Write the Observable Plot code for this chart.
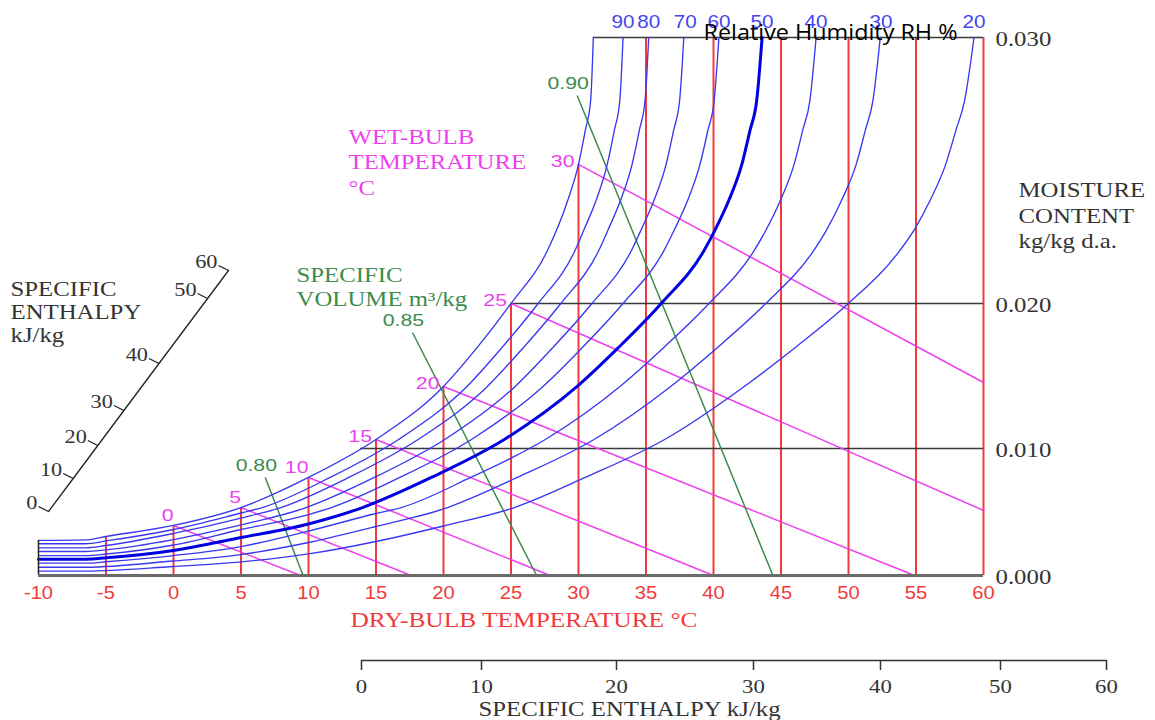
<!DOCTYPE html>
<html><head><meta charset="utf-8">
<script src="https://cdn.jsdelivr.net/npm/d3@7"></script>
<script src="https://cdn.jsdelivr.net/npm/@observablehq/plot@0.6"></script>
<style>
html,body{margin:0;padding:0;background:#fff;}
#chart{position:relative;width:1155px;height:720px;overflow:hidden;background:#fff;}
#chart svg{position:absolute;left:0;top:0;}
</style></head><body><div id="chart"></div>
<script>
// ---------- data ----------
const dryBulbTicks = [-10,-5,0,5,10,15,20,25,30,35,40,45,50,55,60];
const redLineT = [-5,0,5,10,15,20,25,30,35,40,45,50,55,60];
const redLineTopW = [0.00307,0.00394,0.00535,0.00772,0.01062,0.01428,0.0200,0.02523,0.03,0.03,0.03,0.03,0.03,0.03];
const moistureTicks = [0, 0.01, 0.02, 0.03];
const moistureLabels = ["0.000","0.010","0.020","0.030"];
const moistureLineStartT = [13.85, 25, 31.1];

const rhLevels = [100,90,80,70,60,50,40,30,20];
const rh100 = [[-10,0.00276],[-6.5,0.00280],[-5,0.00307],[0,0.00394],[5,0.00535],[10,0.00772],[15,0.01062],[20,0.01428],[22.5,0.01697],[25,0.0200],[27.7,0.02199],[29.2,0.02387],[30,0.02523],[30.5,0.02650],[30.9,0.02763],[31.1,0.03]];
const rh90 = [[-10,0.00250],[-6.5,0.00250],[-5,0.00272],[0,0.00362],[5,0.00492],[6.58,0.00535],[11.6,0.00772],[16.67,0.01062],[21.74,0.01428],[24.34,0.01697],[26.95,0.01993],[29.74,0.02199],[30.41,0.02278],[31.3,0.02387],[32.13,0.02523],[32.65,0.02650],[33.06,0.02763],[33.3,0.03]];
const rh80 = [[-10,0.00218],[-6.5,0.00218],[-5,0.00236],[0,0.00331],[5,0.00452],[7.95,0.00535],[12.98,0.00772],[18.12,0.01062],[23.25,0.01428],[25.93,0.01697],[28.63,0.01993],[31.5,0.02199],[32.2,0.02278],[33.11,0.02387],[33.97,0.02523],[34.5,0.02650],[34.93,0.02763],[35.2,0.03]];
const rh70 = [[-10,0.00189],[-6.5,0.00189],[-5,0.00202],[0,0.00283],[5,0.00398],[9.82,0.00535],[14.88,0.00772],[20.09,0.01062],[25.31,0.01428],[28.11,0.01697],[30.93,0.01993],[33.92,0.02199],[34.65,0.02278],[35.59,0.02387],[36.49,0.02523],[37.04,0.02650],[37.49,0.02763],[37.8,0.03]];
const rh60 = [[-10,0.00157],[-6.5,0.00157],[-5,0.00169],[0,0.00240],[5,0.00362],[10,0.00480],[11.7,0.00535],[16.77,0.00772],[22.07,0.01062],[27.37,0.01428],[30.29,0.01697],[33.23,0.01993],[36.33,0.02199],[37.11,0.02278],[38.08,0.02387],[39.0,0.02523],[39.58,0.02650],[40.05,0.02763],[40.4,0.03]];
const rh50 = [[-10,0.00128],[-6.5,0.00128],[-5,0.00139],[0,0.00197],[5,0.00299],[10,0.00406],[14,0.00535],[19.1,0.00772],[24.5,0.01062],[29.9,0.01428],[32.97,0.01697],[36.06,0.01993],[39.3,0.02199],[40.13,0.02278],[41.13,0.02387],[42.1,0.02523],[42.7,0.02650],[43.2,0.02763],[43.6,0.03]];
const rh40 = [[-10,0.00097],[-6.5,0.00097],[-5,0.00108],[0,0.00157],[5,0.00228],[10,0.00350],[15,0.00488],[16.88,0.00535],[22.01,0.00772],[27.54,0.01062],[33.07,0.01428],[36.32,0.01697],[39.6,0.01993],[43.01,0.02199],[43.91,0.02278],[44.95,0.02387],[45.97,0.02523],[46.6,0.02650],[47.14,0.02763],[47.6,0.03]];
const rh30 = [[-10,0.00065],[-6.5,0.00065],[0,0.00114],[5,0.00165],[10,0.00260],[15,0.00386],[20.3,0.00535],[25.47,0.00772],[31.15,0.01062],[36.83,0.01428],[40.3,0.01697],[43.8,0.01993],[47.42,0.02199],[48.39,0.02278],[49.48,0.02387],[50.57,0.02523],[51.24,0.02650],[51.81,0.02763],[52.35,0.03]];
const rh20 = [[-10,0.00034],[-6.5,0.00034],[0,0.00071],[5,0.00107],[10,0.00170],[15,0.00268],[20,0.00390],[25.25,0.00535],[30.5,0.00772],[36.38,0.01062],[42.28,0.01428],[46.06,0.01697],[49.9,0.01993],[53.8,0.02199],[54.88,0.02278],[56.04,0.02387],[57.2,0.02523],[57.95,0.02650],[58.6,0.02763],[59.3,0.03]];

const rhLabelLevels = [90,80,70,60,50,40,30,20];
const rhLabelTopT = [33.3,35.2,37.9,40.4,43.6,47.6,52.4,59.3];

const wetBulbT = [0,5,10,15,20,25,30];
const wetBulbStartW = [0.00394,0.00535,0.00772,0.01062,0.01428,0.0200,0.02523];
const wetBulbEndT = [9.4,17.6,27.9,40,54.9,60,60];
const wetBulbEndW = [0,0,0,0,0,0.00512,0.01455];

const volumeLabels = ["0.80","0.85","0.90"];
const volumeStartT = [6.8,17.7,29.9];
const volumeStartW = [0.00772,0.0180,0.02782];
const volumeEndT = [9.6,26.9,44.4];

const enthalpyTicks = [0,10,20,30,40,50,60];

// ---------- tables ----------
const rhCurves = [rh100,rh90,rh80,rh70,rh60,rh50,rh40,rh30,rh20];
const rhRows = rhLevels.flatMap((rh,i) => rhCurves[i].map(([T,w]) => ({rh, T, w})));
const redRows = redLineT.map((T,i) => ({T, top: redLineTopW[i]}));
const hLineRows = moistureTicks.slice(1).map((w,i) => ({w, x1: moistureLineStartT[i]}));
const wbRows = wetBulbT.map((t,i) => ({label: String(t), T1: t, W1: wetBulbStartW[i], T2: wetBulbEndT[i], W2: wetBulbEndW[i]}));
const volRows = volumeLabels.map((l,i) => ({label: l, T1: volumeStartT[i], W1: volumeStartW[i], T2: volumeEndT[i], W2: 0}));

// ---------- styles ----------
const serif = "Liberation Serif, Times New Roman, serif";
const sans = "Liberation Sans, Arial, sans-serif";
const RED = "#f23a3a", PINK = "#ee3fee", GREEN = "#3c8c4e", BLUE = "#3838f0", GREY = "#333";
const tag = k => () => "k" + k;
const label = (txt, x, y, o) => Plot.text([txt], {frameAnchor: "top-left", dx: x, dy: y, text: d => d,
  textAnchor: "start", lineAnchor: "middle", fontFamily: serif, fontSize: 20, ...o});

const main = Plot.plot({
  width: 1155, height: 720, margin: 0,
  style: {background: "transparent", overflow: "visible"},
  x: {type: "linear", domain: [-10, 60], range: [38, 983], axis: null},
  y: {type: "linear", domain: moistureTicks, range: [575, 448, 303, 37], axis: null},
  marks: [
    Plot.ruleX(redRows, {x: "T", y1: 0, y2: "top", stroke: RED, strokeWidth: 2}),
    Plot.ruleY(hLineRows, {y: "w", x1: "x1", x2: 60, stroke: "#3a3a3a", strokeWidth: 1.5}),
    Plot.link(wbRows, {x1: "T1", y1: "W1", x2: "T2", y2: "W2", stroke: PINK, strokeWidth: 1.5}),
    Plot.link(volRows, {x1: "T1", y1: "W1", x2: "T2", y2: "W2", stroke: GREEN, strokeWidth: 1.5}),
    Plot.line(rhRows.filter(d => d.rh !== 50), {x: "T", y: "w", z: "rh", stroke: BLUE, strokeWidth: 1.35, curve: "monotone-x"}),
    Plot.line(rhRows.filter(d => d.rh === 50), {x: "T", y: "w", stroke: "#0000e0", strokeWidth: 3, curve: "monotone-x"}),
    Plot.ruleX([-10], {y1: 0, y2: rh100[0][1], stroke: "#222", strokeWidth: 1.5}),
    Plot.ruleY([0], {x1: -10, x2: 60, stroke: "#6b6b6b", strokeWidth: 3}),
    // dry-bulb tick labels
    Plot.text(dryBulbTicks, {x: d => d, y: 0, dy: 18, text: d => String(d), fill: RED, fontFamily: sans, fontSize: 18, ariaLabel: tag(1.12)}),
    // moisture labels
    Plot.text(moistureTicks, {x: 60, y: d => d, dx: 12, dy: 2, text: (d,i) => moistureLabels[i], textAnchor: "start", fill: GREY, fontFamily: serif, fontSize: 20, ariaLabel: tag(1.24)}),
    // wet-bulb labels
    Plot.text(wbRows.filter(d => d.T1 <= 10), {x: "T1", y: "W1", text: "label", textAnchor: "end", dx: 0, dy: -10, fill: PINK, fontFamily: sans, fontSize: 17, ariaLabel: tag(1.25)}),
    Plot.text(wbRows.filter(d => d.T1 > 10), {x: "T1", y: "W1", text: "label", textAnchor: "end", dx: -4, dy: -3, fill: PINK, fontFamily: sans, fontSize: 17, ariaLabel: tag(1.25)}),
    // specific volume labels
    Plot.text(volRows, {x: "T1", y: "W1", text: "label", dx: -9, dy: -12, fill: GREEN, fontFamily: sans, fontSize: 17, ariaLabel: tag(1.25)}),
    // RH labels
    Plot.text(rhLabelLevels, {x: (d,i) => rhLabelTopT[i], y: 0.03, dy: -15, text: d => String(d), fill: "#4545f2", fontFamily: sans, fontSize: 18, ariaLabel: tag(1.15)}),
    // static captions
    label("SPECIFIC\nENTHALPY\nkJ/kg", 10, 311, {lineHeight: 1.15, fill: GREY, ariaLabel: tag(1.24)}),
    label("SPECIFIC\nVOLUME m³/kg", 296, 285.5, {lineHeight: 1.25, fill: GREEN, ariaLabel: tag(1.24)}),
    label("WET-BULB\nTEMPERATURE\n°C", 348, 160.5, {lineHeight: 1.275, fill: PINK, ariaLabel: tag(1.24)}),
    label("MOISTURE\nCONTENT\nkg/kg d.a.", 1018, 214, {lineHeight: 1.275, fill: GREY, ariaLabel: tag(1.24)}),
    label("DRY-BULB TEMPERATURE °C", 350, 620, {fill: RED, fontSize: 20.5, ariaLabel: tag(1.24)}),
    label("SPECIFIC ENTHALPY kJ/kg", 478, 709, {fill: GREY, ariaLabel: tag(1.24)}),
    label("Relative Humidity RH %", 703, 33, {fill: "#000", fontFamily: "Open Sans, Lato, sans-serif", fontSize: 21, ariaLabel: tag(254)})
  ]
});

// left diagonal enthalpy scale
const tickSymbol = {draw(ctx) { ctx.moveTo(0, 0); ctx.lineTo(-10, -5); }};
const leftScale = Plot.plot({
  width: 1155, height: 720, margin: 0,
  style: {background: "transparent", overflow: "visible"},
  x: {type: "linear", domain: enthalpyTicks, range: [48, 72.7, 97.3, 123.4, 158.5, 207.1, 228], axis: null},
  y: {type: "linear", domain: enthalpyTicks, range: [511, 478, 445, 410, 363, 298, 270], axis: null},
  marks: [
    Plot.line(enthalpyTicks, {x: d => d, y: d => d, stroke: "#222", strokeWidth: 1.3}),
    Plot.dot(enthalpyTicks, {x: d => d, y: d => d, symbol: tickSymbol, fill: "none", stroke: "#222", strokeWidth: 1.3}),
    Plot.text(enthalpyTicks, {x: d => d, y: d => d, text: d => String(d), textAnchor: "end", dx: -11, dy: -8, fill: GREY, fontFamily: serif, fontSize: 18, ariaLabel: tag(1.24)})
  ]
});

// bottom enthalpy scale
const bottomScale = Plot.plot({
  width: 1155, height: 720, margin: 0,
  style: {background: "transparent", overflow: "visible"},
  x: {type: "linear", domain: enthalpyTicks, range: [361, 481, 616, 753, 880, 1000, 1106], axis: null},
  y: {type: "linear", domain: [0, 1], range: [660, 670], axis: null},
  marks: [
    Plot.ruleY([0], {x1: 0, x2: 60, stroke: "#333", strokeWidth: 1.5}),
    Plot.ruleX(enthalpyTicks, {x: d => d, y1: 0, y2: 1, stroke: "#333", strokeWidth: 1.5}),
    Plot.text(enthalpyTicks, {x: d => d, y: 1, dy: 16, text: d => String(d), fill: GREY, fontFamily: serif, fontSize: 19, ariaLabel: tag(1.2)})
  ]
});

const host = document.getElementById("chart");
host.append(main, leftScale, bottomScale);

// widen glyphs horizontally about each text's own anchor (the reference lettering is wide)
function stretchTexts(svg) {
  for (const el of svg.querySelectorAll("text[aria-label]")) {
    const m = /^k([\d.]+)$/.exec(el.getAttribute("aria-label"));
    if (!m) continue;
    const k = +m[1];
    if (k > 10) {
      el.setAttribute("textLength", k);
      el.setAttribute("lengthAdjust", "spacingAndGlyphs");
      continue;
    }
    const x = parseFloat(el.getAttribute("x")) || 0;
    const t = el.getAttribute("transform") || "";
    el.setAttribute("transform", `${t} translate(${x},0) scale(${k},1) translate(${-x},0)`);
  }
}
[main, leftScale, bottomScale].forEach(stretchTexts);
</script></body></html>
